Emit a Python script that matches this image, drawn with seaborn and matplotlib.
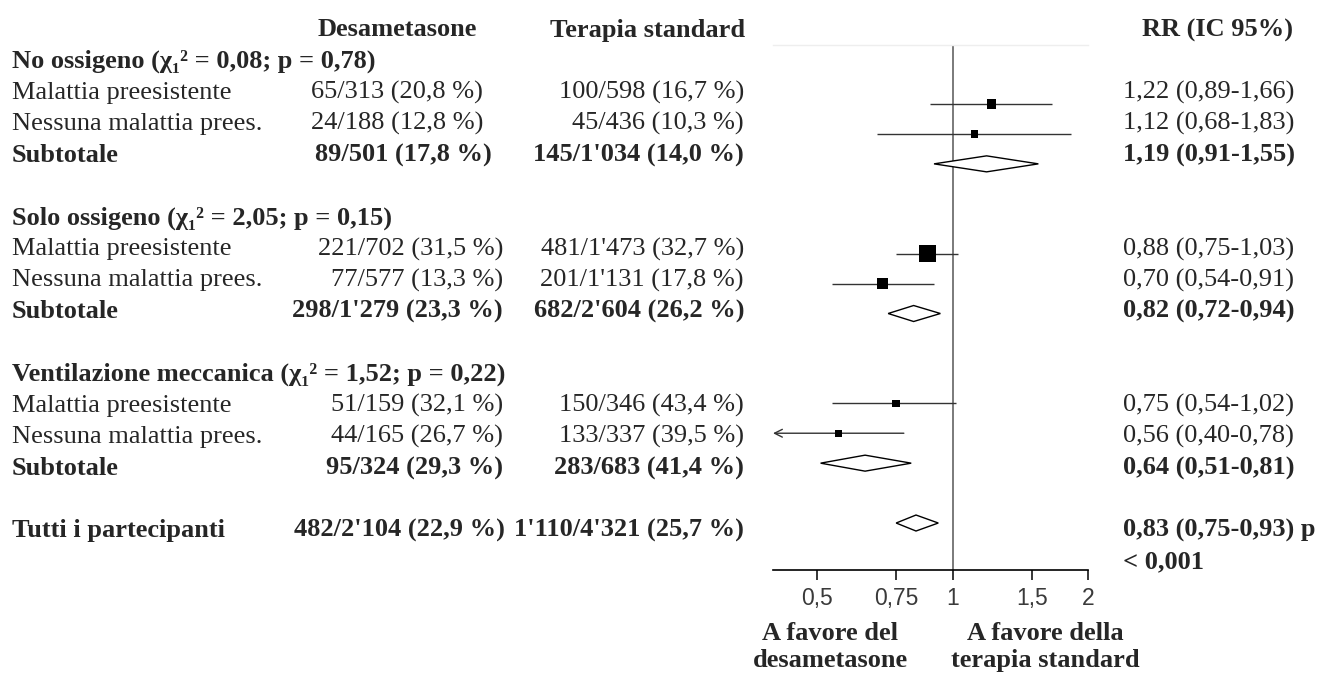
import numpy as np
import pandas as pd
import matplotlib
matplotlib.use("Agg")
import matplotlib.pyplot as plt
from matplotlib.ticker import NullLocator
import seaborn as sns

# ------------------------------------------------------------------ data
group_titles = ["No ossigeno (χ₁² = 0,08; p = 0,78)",
                "Solo ossigeno (χ₁² = 2,05; p = 0,15)",
                "Ventilazione meccanica (χ₁² = 1,52; p = 0,22)"]
row_labels = ["Malattia preesistente", "Nessuna malattia prees.", "Subtotale",
              "Malattia preesistente", "Nessuna malattia prees.", "Subtotale",
              "Malattia preesistente", "Nessuna malattia prees.", "Subtotale",
              "Tutti i partecipanti"]
dexa_events = ["65/313 (20,8 %)", "24/188 (12,8 %)", "89/501 (17,8 %)",
               "221/702 (31,5 %)", "77/577 (13,3 %)", "298/1'279 (23,3 %)",
               "51/159 (32,1 %)", "44/165 (26,7 %)", "95/324 (29,3 %)",
               "482/2'104 (22,9 %)"]
std_events = ["100/598 (16,7 %)", "45/436 (10,3 %)", "145/1'034 (14,0 %)",
              "481/1'473 (32,7 %)", "201/1'131 (17,8 %)", "682/2'604 (26,2 %)",
              "150/346 (43,4 %)", "133/337 (39,5 %)", "283/683 (41,4 %)",
              "1'110/4'321 (25,7 %)"]
rr = [1.22, 1.12, 1.19, 0.88, 0.70, 0.82, 0.75, 0.56, 0.64, 0.83]
ci_lo = [0.89, 0.68, 0.91, 0.75, 0.54, 0.72, 0.54, 0.40, 0.51, 0.75]
ci_hi = [1.66, 1.83, 1.55, 1.03, 0.91, 0.94, 1.02, 0.78, 0.81, 0.93]
is_summary = [False, False, True, False, False, True, False, False, True, True]
weight = [86, 56, 0, 289, 121, 0, 56, 49, 0, 0]   # relative study weight (box area)
overall_p = "< 0,001"
x_ticks = [0.5, 0.75, 1, 1.5, 2]
x_tick_labels = ["0,5", "0,75", "1", "1,5", "2"]
col_headers = ["Desametasone", "Terapia standard", "RR (IC 95%)"]
favour_left = "A favore del\ndesametasone"
favour_right = "A favore della\nterapia standard"

# ------------------------------------------------------------------ layout
row_pos = [2, 3, 4, 7, 8, 9, 12, 13, 14, 16]      # table row index
group_pos = [1, 6, 11]

W, H = 1317, 675
sns.set_theme(style="white")
SERIF = ["Liberation Serif", "DejaVu Serif"]
plt.rcParams["font.family"] = SERIF

fig = plt.figure(figsize=(W / 100, H / 100), dpi=100)
fig.patch.set_facecolor("white")

# forest-plot axes (row index k is drawn at pixel 104 + (k-2)*29.93)
px_top, px_bot = 45, 570
px_left, px_right = 773, 1088.3
ax = fig.add_axes([px_left / W, 1 - px_bot / H, (px_right - px_left) / W,
                   (px_bot - px_top) / H])
ax.set_facecolor("none")
k_top = 2 + (px_top - 104) / 29.93
k_bot = 2 + (px_bot - 104) / 29.93
ax.set_xscale("log")
ax.set_xlim(0.4, 2.0)
ax.set_ylim(k_bot, k_top)

df = pd.DataFrame({"label": row_labels, "rr": rr, "lo": ci_lo, "hi": ci_hi,
                   "summary": is_summary, "weight": weight, "pos": row_pos})

ax.axvline(1, color="#7a7a7a", lw=1.4, zorder=1)

xmin = ax.get_xlim()[0]
ind = df[~df["summary"]]
for _, r in ind.iterrows():
    if r["lo"] <= xmin + 1e-9:
        ax.annotate("", xy=(r["lo"], r["pos"]), xytext=(r["hi"], r["pos"]),
                    arrowprops=dict(arrowstyle="->", lw=1.0, color="#333333",
                                    shrinkA=0, shrinkB=0, mutation_scale=14),
                    zorder=2, annotation_clip=False)
    else:
        ax.hlines(r["pos"], r["lo"], r["hi"], color="#333333", lw=1.0, zorder=2)

areas = ind["weight"] * 0.72 ** 2
ind = ind.assign(area=areas)
sns.scatterplot(data=ind, x="rr", y="pos", size="area",
                sizes=(areas.min(), areas.max()),
                size_norm=(areas.min(), areas.max()),
                marker="s", color="black", linewidth=0, legend=False,
                ax=ax, zorder=3)

half_h = 8 / 29.93
for _, r in df[df["summary"]].iterrows():
    ax.fill([r["lo"], r["rr"], r["hi"], r["rr"]],
            [r["pos"], r["pos"] - half_h, r["pos"], r["pos"] + half_h],
            facecolor="white", edgecolor="black", lw=1.0, zorder=3)

ax.set_xlabel("")
ax.set_ylabel("")
ax.set_yticks([])
ax.set_xticks(x_ticks)
ax.set_xticklabels(x_tick_labels)
ax.xaxis.set_minor_locator(NullLocator())
ax.tick_params(axis="x", bottom=True, direction="out", length=7, width=1.1,
               color="black", labelsize=16.5, labelcolor="#3a3a3a", pad=5)
for lab in ax.get_xticklabels():
    lab.set_family(["Liberation Sans", "DejaVu Sans"])
for s in ["left", "right"]:
    ax.spines[s].set_visible(False)
ax.spines["top"].set_color("#eeeeee")
ax.spines["top"].set_linewidth(1.0)
ax.spines["bottom"].set_color("black")
ax.spines["bottom"].set_linewidth(1.2)
ax.grid(False)

# ------------------------------------------------------------------ table text
tax = fig.add_axes([0, 0, 1, 1], zorder=5)
tax.set_xlim(0, W)
tax.set_ylim(H, 0)
tax.axis("off")
tax.patch.set_alpha(0)

FS = 19
def ty(k):
    return 30 + 31.3 * k

tax.text(397, ty(0), col_headers[0], ha="center", va="center", fontsize=FS,
         fontweight="bold")
tax.text(745, ty(0), col_headers[1], ha="right", va="center", fontsize=FS,
         fontweight="bold")
tax.text(1293, ty(0), col_headers[2], ha="right", va="center", fontsize=FS,
         fontweight="bold")

for g, k in zip(group_titles, group_pos):
    tax.text(12, ty(k), g, ha="left", va="center", fontsize=FS,
             fontweight="bold", family=SERIF)

dexa_right = [483, 483, 492, 503, 503, 503, 503, 503, 503, 505]
fmt = lambda v: f"{v:.2f}".replace(".", ",")
for i, r in df.iterrows():
    k = r["pos"]
    fw = "bold" if r["summary"] else "normal"
    tax.text(12, ty(k), r["label"], ha="left", va="center", fontsize=FS,
             fontweight=fw)
    tax.text(dexa_right[i], ty(k), dexa_events[i], ha="right", va="center",
             fontsize=FS, fontweight=fw)
    tax.text(744, ty(k), std_events[i], ha="right", va="center",
             fontsize=FS, fontweight=fw)
    rr_txt = f"{fmt(r['rr'])} ({fmt(r['lo'])}-{fmt(r['hi'])})"
    if i == len(df) - 1:
        rr_txt += " p"
        tax.text(1123, ty(k + 1), overall_p, ha="left", va="center",
                 fontsize=FS, fontweight="bold")
    tax.text(1123, ty(k), rr_txt, ha="left", va="center", fontsize=FS,
             fontweight=fw)

tax.text(830, 647, favour_left, ha="center", va="center", fontsize=FS,
         fontweight="bold", linespacing=1.2)
tax.text(1045, 647, favour_right, ha="center", va="center", fontsize=FS,
         fontweight="bold", linespacing=1.2)

fig.savefig("out.png", dpi=100, facecolor="white")
